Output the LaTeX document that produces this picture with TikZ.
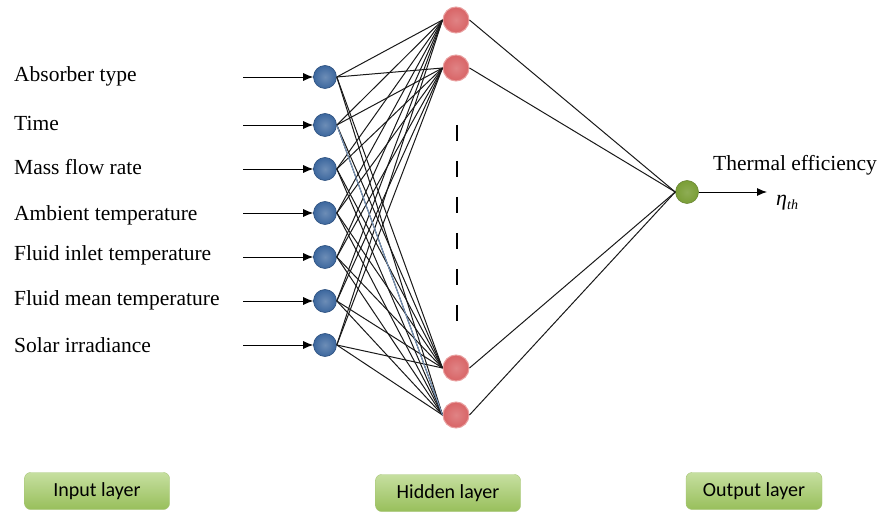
\documentclass[tikz,border=0pt]{standalone}
\usepackage{fontspec}
\setmainfont{Liberation Serif}
\newfontfamily\boxfont{Carlito}
\usetikzlibrary{arrows.meta,shadings}
\definecolor{inblue}{HTML}{3C679E}
\definecolor{inblueb}{HTML}{2B4F7E}
\definecolor{hidred}{HTML}{D86466}
\definecolor{hidredb}{HTML}{E9A0A0}
\definecolor{outgreen}{HTML}{7A9E36}
\definecolor{boxtop}{HTML}{C6DFA0}
\definecolor{boxbot}{HTML}{98BF5B}
\definecolor{boxedge}{HTML}{A6C475}
\tikzset{
  inneuron/.style={circle,minimum size=23pt,inner sep=0pt,inner color=inblue!75!white,outer color=inblue,draw=inblueb,line width=0.6pt},
  hidneuron/.style={circle,minimum size=26pt,inner sep=0pt,inner color=hidred!80!white,outer color=hidred,draw=hidredb,line width=1pt},
  outneuron/.style={circle,minimum size=23pt,inner sep=0pt,inner color=outgreen!85!white,outer color=outgreen,draw=outgreen!80!black,line width=0.5pt},
  lbl/.style={anchor=west,inner sep=0pt,font=\fontsize{21.5}{24}\selectfont},
  conn/.style={line width=1pt,black!90},
  inarrow/.style={-{Latex[length=10pt,width=8pt]},line width=0.9pt},
  layerbox/.style={rounded corners=6pt,draw=boxedge,top color=boxtop,bottom color=boxbot,minimum width=145pt,minimum height=37pt,font=\boxfont\fontsize{20}{22}\selectfont}
}
\begin{document}
\begin{tikzpicture}[x=1pt,y=-1pt]
\useasboundingbox (0,0) rectangle (879,513);
% input neurons and labels
\foreach \i/\y/\t/\ly in {1/77/Absorber type/76,2/125/Time/123,3/169/Mass flow rate/167,4/213/Ambient temperature/215,5/257/Fluid inlet temperature/255,6/301/Fluid mean temperature/300,7/345/Solar irradiance/345}{
  \node[inneuron] (i\i) at (325,\y) {};
  \node[lbl] (l\i) at (14,\ly) {\t};
  \coordinate (s\i) at (243,\y);
  \draw[inarrow] (s\i) -- (i\i.west);
}
% hidden neurons
\node[hidneuron] (h1) at (456,20) {};
\node[hidneuron] (h2) at (456,68) {};
\node[hidneuron] (h3) at (456,368) {};
\node[hidneuron] (h4) at (456,415) {};
% output neuron
\node[outneuron] (o) at (687,192) {};
% connections input -> hidden
\foreach \i in {1,...,7}{
  \foreach \h in {1,...,4}{
    \draw[conn] (i\i.east) -- (h\h.west);
  }
}
\draw[line width=1pt,inblue!70!white] (i2.east) -- (h4.west);
% hidden -> output
\foreach \h in {1,...,4}{
  \draw[conn] (h\h.east) -- (o.west);
}
% dashed vertical
\coordinate (d1) at (457,125);
\coordinate (d2) at (457,322);
\draw[line width=1.3pt,dash pattern=on 16pt off 20pt] (d1) -- (d2);
% output arrow and label
\coordinate (oe) at (767,192);
\draw[inarrow] (o.east) -- (oe);
\node[lbl] (te) at (713,165) {Thermal efficiency};
\node[anchor=west,inner sep=0pt,font=\fontsize{22}{24}\selectfont\itshape] (eta) at (776,203) {η\raisebox{-4pt}{\fontsize{14}{15}\selectfont th}};
% layer boxes
\node[layerbox] (bin) at (97,491) {Input layer};
\node[layerbox] (bhid) at (448,493) {Hidden layer};
\node[layerbox,minimum width=136pt] (bout) at (754,491) {Output layer};
\end{tikzpicture}
\end{document}
